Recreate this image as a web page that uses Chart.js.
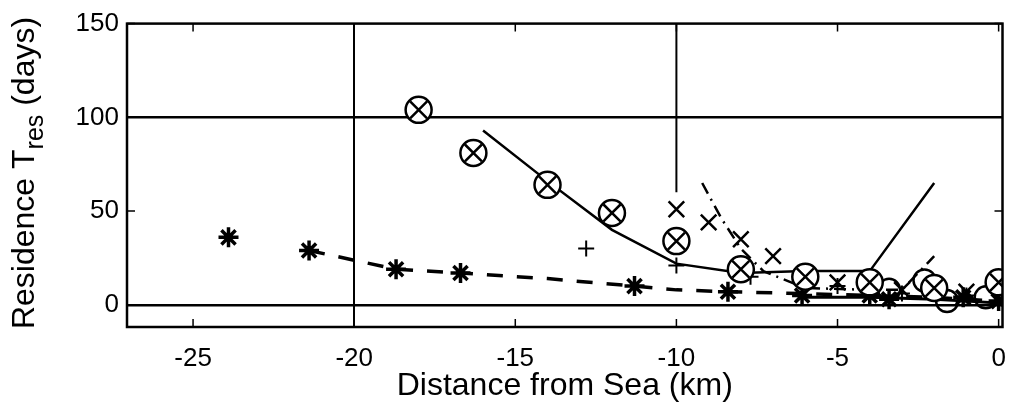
<!DOCTYPE html>
<html>
<head>
<meta charset="utf-8">
<script src="https://cdn.jsdelivr.net/npm/chart.js@4.4.1/dist/chart.umd.min.js"></script>
<style>
html, body { margin: 0; padding: 0; background: #fff; }
#wrap { width: 1018px; height: 402px; }
</style>
</head>
<body>
<div id="wrap"><canvas id="grafico"></canvas></div>
<script>
// tick values
const xTicks = [-25, -20, -15, -10, -5, 0];
const yTicks = [0, 50, 100, 150];

// circled-x markers
const circX = [-18, -16.3, -14, -12, -10, -8, -6, -4, -2, 0];
const circY = [104, 81, 64, 49, 34, 19, 15, 12, 9, 12];
// solid line
const solidX = [-16, -14, -12, -10, -8, -6, -4, -2];
const solidY = [93, 66, 40, 22, 17, 18, 18, 65];
// solid line near the bottom
const lowX = [-6, -4, -2, -1, 0];
const lowY = [4, 4, 3, 2, 1];
// asterisks
const starX = [-23.9, -21.4, -18.7, -16.7, -11.3, -8.4, -6.1, -4, -3.4, -1.1, 0];
const starY = [36, 29, 19, 17, 10, 7, 5, 5, 3, 4, 2];
// dashed line
const dashX = [-21.4, -18.7, -16.7, -14, -11.3, -10, -8.4, -6, -4, -2, 0];
const dashY = [29, 19, 17, 14, 10, 8, 7, 6, 5, 4, 2];
// x markers
const crossX = [-10, -9, -8, -7, -5, -3, -1];
const crossY = [51, 44, 35, 26, 12, 8, 7];
// dash-dot line
const dotX = [-9.2, -8.6, -8, -7.3, -6, -4, -3, -2];
const dotY = [65, 46, 30, 18, 9, 8, 8, 26];
// plus markers
const plusX = [-12.8, -10, -7.7, -5, -3, -1];
const plusY = [30, 21, 15, 10, 6, 5];
// open circles
const ringX = [-3.4, -2.3, -1.6, -0.4];
const ringY = [8, 13, 2, 4];
// partial vertical line at -10
const vlineX = [-10, -10];
const vlineY = [150, 60];

const pts = (xs, ys) => xs.map((x, i) => ({ x: x, y: ys[i] }));
const FONT = '"Liberation Sans", Arial, sans-serif';

const boxPlugin = {
    id: 'boxPlugin',
    afterDraw(chart) {
        const { ctx, chartArea: a, scales } = chart;
        ctx.save();
        ctx.strokeStyle = '#000';
        ctx.lineWidth = 2.5;
        ctx.strokeRect(a.left, a.top, a.right - a.left, a.bottom - a.top);
        ctx.lineWidth = 1.5;
        ctx.beginPath();
        xTicks.forEach(v => {
            const px = scales.x.getPixelForValue(v);
            ctx.moveTo(px, a.bottom); ctx.lineTo(px, a.bottom - 8);
            ctx.moveTo(px, a.top); ctx.lineTo(px, a.top + 8);
        });
        yTicks.forEach(v => {
            const py = scales.y.getPixelForValue(v);
            ctx.moveTo(a.left, py); ctx.lineTo(a.left + 8, py);
            ctx.moveTo(a.right, py); ctx.lineTo(a.right - 8, py);
        });
        ctx.stroke();

        // y axis title with subscript
        const big = '32px ' + FONT;
        const small = '25px ' + FONT;
        const p1 = 'Residence T', p2 = 'res', p3 = ' (days)';
        ctx.font = big; const w1 = ctx.measureText(p1).width; const w3 = ctx.measureText(p3).width;
        ctx.font = small; const w2 = ctx.measureText(p2).width;
        const total = w1 + w2 + w3;
        ctx.translate(34, 173);
        ctx.rotate(-Math.PI / 2);
        ctx.fillStyle = '#000';
        ctx.textBaseline = 'alphabetic';
        ctx.textAlign = 'left';
        let x0 = -total / 2;
        ctx.font = big; ctx.fillText(p1, x0, 0);
        ctx.font = small; ctx.fillText(p2, x0 + w1, 9);
        ctx.font = big; ctx.fillText(p3, x0 + w1 + w2, 0);
        ctx.restore();
    }
};

const ctx = document.getElementById('grafico').getContext('2d');
new Chart(ctx, {
    type: 'scatter',
    data: {
        datasets: [
            { data: pts(circX, circY), pointStyle: 'crossRot', pointRadius: 12, borderColor: '#000', borderWidth: 2.5, order: 1 },
            { data: pts(circX, circY), pointStyle: 'circle', pointRadius: 13, borderColor: '#000', backgroundColor: '#fff', borderWidth: 2.5, order: 2 },
            { data: pts(ringX, ringY), pointStyle: 'circle', pointRadius: 11, borderColor: '#000', backgroundColor: 'rgba(0,0,0,0)', borderWidth: 2.5, order: 3 },
            { data: pts(starX, starY), pointStyle: 'star', pointRadius: 10, borderColor: '#000', borderWidth: 3.5, order: 4 },
            { data: pts(crossX, crossY), pointStyle: 'crossRot', pointRadius: 11, borderColor: '#000', borderWidth: 2.5, order: 5 },
            { data: pts(plusX, plusY), pointStyle: 'cross', pointRadius: 8, borderColor: '#000', borderWidth: 2, order: 6 },
            { data: pts(solidX, solidY), showLine: true, pointRadius: 0, borderColor: '#000', borderWidth: 2.5, order: 7 },
            { data: pts(lowX, lowY), showLine: true, pointRadius: 0, borderColor: '#000', borderWidth: 3, order: 8 },
            { data: pts(dashX, dashY), showLine: true, pointRadius: 0, borderColor: '#000', borderWidth: 3.5, borderDash: [16, 14], order: 9 },
            { data: pts(dotX, dotY), showLine: true, pointRadius: 0, borderColor: '#000', borderWidth: 2.5, borderDash: [12, 6, 2, 6], order: 10 },
            { data: pts(vlineX, vlineY), showLine: true, pointRadius: 0, borderColor: '#000', borderWidth: 2, order: 11 }
        ]
    },
    options: {
        responsive: true,
        maintainAspectRatio: false,
        animation: false,
        layout: { padding: { left: 55, right: 11, top: 23, bottom: 0 } },
        plugins: {
            legend: { display: false },
            tooltip: { enabled: false }
        },
        scales: {
            x: {
                type: 'linear',
                min: -27.05,
                max: 0.12,
                afterBuildTicks: s => { s.ticks = xTicks.map(v => ({ value: v })); },
                afterFit: s => { s.height = 75; s.paddingLeft = 0; s.paddingRight = 0; },
                ticks: { color: '#000', font: { size: 26, family: FONT }, padding: 16, maxRotation: 0 },
                grid: { color: c => (c.tick && c.tick.value === -20 ? '#000' : 'rgba(0,0,0,0)'), lineWidth: 2, drawTicks: false },
                border: { display: false },
                title: { display: true, text: 'Distance from Sea (km)', color: '#000', font: { size: 32, family: FONT, lineHeight: 1 }, padding: { top: 0, bottom: 0 } }
            },
            y: {
                type: 'linear',
                min: -11.8,
                max: 150,
                afterBuildTicks: s => { s.ticks = yTicks.map(v => ({ value: v })); },
                afterFit: s => { s.width = 72; },
                ticks: { color: '#000', font: { size: 26, family: FONT }, padding: 8 },
                grid: { color: c => (c.tick && (c.tick.value === 0 || c.tick.value === 100) ? '#000' : 'rgba(0,0,0,0)'), lineWidth: 2.5, drawTicks: false },
                border: { display: false }
            }
        }
    },
    plugins: [boxPlugin]
});
</script>
</body>
</html>
